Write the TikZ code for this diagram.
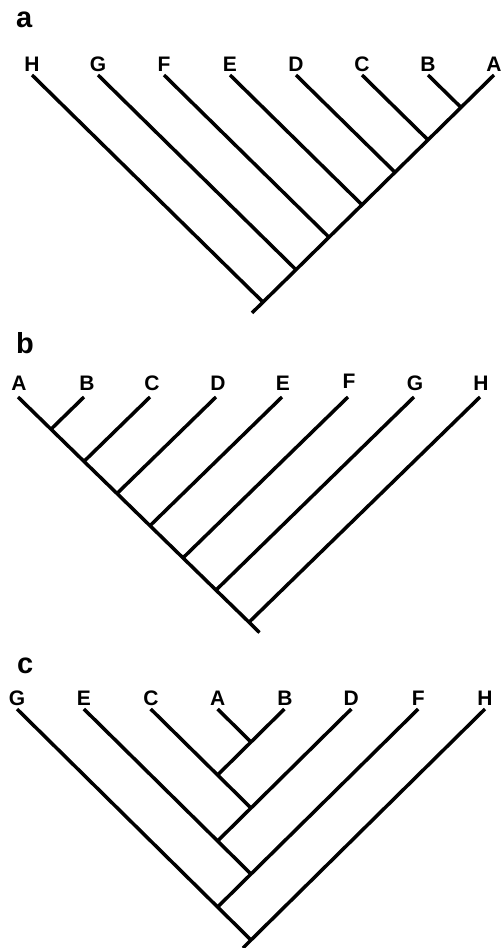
\documentclass[tikz,border=0pt]{standalone}
\usepackage{fontspec}
\setmainfont{Liberation Sans}

\tikzset{
  branch/.style={line width=3.5pt, line cap=butt},
  taxon/.style={anchor=base, inner sep=0pt, font=\fontsize{21}{21}\selectfont\bfseries},
  panel/.style={anchor=base west, inner sep=0pt, font=\fontsize{29}{29}\selectfont\bfseries}
}

\begin{document}
\begin{tikzpicture}[x=1pt, y=-1pt]
\useasboundingbox (0,0) rectangle (503,948);

% tree a
\node[panel] (pa) at (16,27) {a};

\coordinate (aH) at (32,75);
\coordinate (aG) at (98,75);
\coordinate (aF) at (164,75);
\coordinate (aE) at (230,75);
\coordinate (aD) at (296,75);
\coordinate (aC) at (362,75);
\coordinate (aB) at (428,75);
\coordinate (aA) at (494,75);

\coordinate (a1) at (461,107.4);
\coordinate (a2) at (428,139.9);
\coordinate (a3) at (395,172.3);
\coordinate (a4) at (362,204.8);
\coordinate (a5) at (329,237.2);
\coordinate (a6) at (296,269.7);
\coordinate (a7) at (263,302.1);
\coordinate (as) at (252,312.9);

\node[taxon] (laH) at (32,71) {H};
\node[taxon] (laG) at (98,71) {G};
\node[taxon] (laF) at (164,71) {F};
\node[taxon] (laE) at (230,71) {E};
\node[taxon] (laD) at (296,71) {D};
\node[taxon] (laC) at (362,71) {C};
\node[taxon] (laB) at (428,71) {B};
\node[taxon] (laA) at (494,71) {A};

\draw[branch] (aA) -- (a1) -- (a2) -- (a3) -- (a4) -- (a5) -- (a6) -- (a7) -- (as);
\draw[branch] (aB) -- (a1);
\draw[branch] (aC) -- (a2);
\draw[branch] (aD) -- (a3);
\draw[branch] (aE) -- (a4);
\draw[branch] (aF) -- (a5);
\draw[branch] (aG) -- (a6);
\draw[branch] (aH) -- (a7);

% tree b
\node[panel] (pb) at (16,353) {b};

\coordinate (bA) at (18,397);
\coordinate (bB) at (84,397);
\coordinate (bC) at (150,397);
\coordinate (bD) at (216,397);
\coordinate (bE) at (282,397);
\coordinate (bF) at (348,397);
\coordinate (bG) at (414,397);
\coordinate (bH) at (480,397);

\coordinate (b1) at (51,429.2);
\coordinate (b2) at (84,461.4);
\coordinate (b3) at (117,493.5);
\coordinate (b4) at (150,525.7);
\coordinate (b5) at (183,557.9);
\coordinate (b6) at (216,590.1);
\coordinate (b7) at (249,622.2);
\coordinate (bs) at (259.5,632.5);

\node[taxon] (lbA) at (19,390) {A};
\node[taxon] (lbB) at (87,390) {B};
\node[taxon] (lbC) at (152,390) {C};
\node[taxon] (lbD) at (218,390) {D};
\node[taxon] (lbE) at (283,390) {E};
\node[taxon] (lbF) at (349,388) {F};
\node[taxon] (lbG) at (415,390) {G};
\node[taxon] (lbH) at (481,390) {H};

\draw[branch] (bA) -- (b1) -- (b2) -- (b3) -- (b4) -- (b5) -- (b6) -- (b7) -- (bs);
\draw[branch] (bB) -- (b1);
\draw[branch] (bC) -- (b2);
\draw[branch] (bD) -- (b3);
\draw[branch] (bE) -- (b4);
\draw[branch] (bF) -- (b5);
\draw[branch] (bG) -- (b6);
\draw[branch] (bH) -- (b7);

% tree c
\node[panel] (pc) at (17,673) {c};

\coordinate (cG) at (17,709);
\coordinate (cE) at (83.9,709);
\coordinate (cC) at (150.7,709);
\coordinate (cA) at (217.6,709);
\coordinate (cB) at (284.4,709);
\coordinate (cD) at (351.3,709);
\coordinate (cF) at (418.2,709);
\coordinate (cH) at (485,709);

\coordinate (c1) at (251,742);
\coordinate (c2) at (217.6,775);
\coordinate (c3) at (251,808);
\coordinate (c4) at (217.6,841);
\coordinate (c5) at (251,874);
\coordinate (c6) at (217.6,907);
\coordinate (c7) at (251,940);
\coordinate (cs) at (243,948);

\node[taxon] (lcG) at (17,705) {G};
\node[taxon] (lcE) at (83.9,705) {E};
\node[taxon] (lcC) at (151,705) {C};
\node[taxon] (lcA) at (217.6,705) {A};
\node[taxon] (lcB) at (285,705) {B};
\node[taxon] (lcD) at (351.3,705) {D};
\node[taxon] (lcF) at (418.2,705) {F};
\node[taxon] (lcH) at (485,705) {H};

\draw[branch] (cA) -- (c1);
\draw[branch] (cB) -- (c1) -- (c2);
\draw[branch] (cC) -- (c2) -- (c3);
\draw[branch] (cD) -- (c3) -- (c4);
\draw[branch] (cE) -- (c4) -- (c5);
\draw[branch] (cF) -- (c5) -- (c6);
\draw[branch] (cG) -- (c6) -- (c7);
\draw[branch] (cH) -- (c7) -- (cs);

\end{tikzpicture}
\end{document}
